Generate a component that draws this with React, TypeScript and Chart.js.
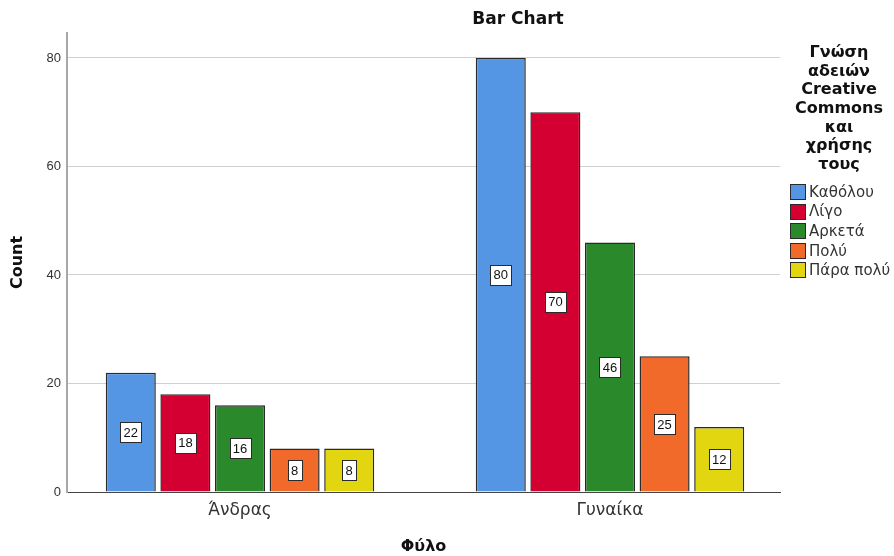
import React, { useEffect, useRef } from 'react';
import { Chart, registerables } from 'chart.js';

Chart.register(...registerables);

const categories = ['Άνδρας', 'Γυναίκα'];
const seriesNames = ['Καθόλου', 'Λίγο', 'Αρκετά', 'Πολύ', 'Πάρα πολύ'];
const katholou = [22, 80];
const ligo = [18, 70];
const arketa = [16, 46];
const poly = [8, 25];
const paraPoly = [8, 12];
const seriesColors = ['#5596E4', '#D40032', '#2A892A', '#F26A2A', '#E2D610'];
const yTicks = [0, 20, 40, 60, 80];
const chartTitle = 'Bar Chart';
const xTitle = 'Φύλο';
const yTitle = 'Count';
const legendTitleLines = ['Γνώση', 'αδειών', 'Creative', 'Commons', 'και', 'χρήσης', 'τους'];

const FONT = '"Liberation Sans", Arial, sans-serif';
const WIDE = '"DejaVu Sans", sans-serif';

const seriesValues = [katholou, ligo, arketa, poly, paraPoly];

const customPlugin = {
  id: 'customDraw',
  afterDatasetsDraw(chart: any) {
    const ctx = chart.ctx;
    ctx.save();
    ctx.font = `13px ${FONT}`;
    ctx.textAlign = 'center';
    ctx.textBaseline = 'middle';
    chart.data.datasets.forEach((ds: any, di: number) => {
      const meta = chart.getDatasetMeta(di);
      meta.data.forEach((el: any, i: number) => {
        const v = ds.data[i].y;
        const { x, y, base } = el.getProps(['x', 'y', 'base'], true);
        const cy = (y + base) / 2;
        const text = String(v);
        const w = Math.round(ctx.measureText(text).width + 7);
        const h = 20;
        const bx = Math.round(x - w / 2) + 0.5;
        const by = Math.round(cy - h / 2) + 0.5;
        ctx.fillStyle = '#ffffff';
        ctx.fillRect(bx, by, w, h);
        ctx.strokeStyle = '#2a2a2a';
        ctx.lineWidth = 1;
        ctx.strokeRect(bx, by, w, h);
        ctx.fillStyle = '#111111';
        ctx.fillText(text, x, cy + 1);
      });
    });
    ctx.restore();
  },
  afterDraw(chart: any) {
    const ctx = chart.ctx;
    ctx.save();
    // chart title
    ctx.fillStyle = '#111111';
    ctx.font = `bold 17px ${WIDE}`;
    ctx.textAlign = 'center';
    ctx.textBaseline = 'middle';
    ctx.fillText(chartTitle, 518, 20);
    // legend title
    ctx.font = `bold 16px ${WIDE}`;
    legendTitleLines.forEach((line, i) => {
      ctx.fillText(line, 839, 53 + i * 18.6);
    });
    // legend items
    ctx.textAlign = 'left';
    ctx.font = `15px ${WIDE}`;
    seriesNames.forEach((name, i) => {
      const y = 192 + i * 19.6;
      ctx.fillStyle = seriesColors[i];
      ctx.fillRect(790.5, Math.round(y - 8) + 0.5, 15, 15);
      ctx.strokeStyle = '#2a2a2a';
      ctx.lineWidth = 1;
      ctx.strokeRect(790.5, Math.round(y - 8) + 0.5, 15, 15);
      ctx.fillStyle = '#333333';
      ctx.fillText(name, 809, y + 1);
    });
    ctx.restore();
  },
};

export default function App() {
  const canvasRef = useRef<HTMLCanvasElement | null>(null);

  useEffect(() => {
    if (!canvasRef.current) return;
    const datasets = seriesNames.map((name, si) => ({
      label: name,
      data: seriesValues[si].map((v, ci) => ({ x: ci + 1, y: v })),
      backgroundColor: seriesColors[si],
      borderColor: '#2a2a2a',
      borderWidth: 1.5,
      categoryPercentage: 0.738,
      barPercentage: 0.916,
    }));
    const chart = new Chart(canvasRef.current, {
      type: 'bar',
      data: { datasets },
      plugins: [customPlugin],
      options: {
        responsive: false,
        animation: false,
        layout: { padding: { top: 33, right: 114, left: 0, bottom: 0 } },
        plugins: {
          legend: { display: false },
          title: { display: false },
          tooltip: { enabled: false },
        },
        scales: {
          x: {
            type: 'linear',
            offset: false,
            min: 0.5324,
            max: 2.4595,
            afterBuildTicks: (s: any) => {
              s.ticks = categories.map((_, i) => ({ value: i + 1 }));
            },
            afterFit: (s: any) => {
              s.height = 64;
            },
            grid: { display: false, drawTicks: false, offset: false },
            border: { display: true, color: '#444444', width: 1 },
            ticks: {
              padding: 8,
              color: '#333333',
              font: { family: WIDE, size: 17 },
              callback: (v: any) => categories[Math.round(v) - 1] ?? '',
            },
            title: {
              display: true,
              text: xTitle,
              color: '#111111',
              font: { family: WIDE, size: 16, weight: 'bold', lineHeight: 1 },
              padding: { top: 0, bottom: 1 },
            },
          },
          y: {
            type: 'linear',
            min: 0,
            max: 84.6,
            afterBuildTicks: (s: any) => {
              s.ticks = yTicks.map((v) => ({ value: v }));
            },
            afterFit: (s: any) => {
              s.width = 67;
            },
            grid: { display: true, color: '#d0d0d0', lineWidth: 1, drawTicks: false },
            border: { display: true, color: '#a8a8a8', width: 2 },
            ticks: {
              padding: 6,
              color: '#333333',
              font: { family: FONT, size: 13 },
            },
            title: {
              display: true,
              text: yTitle,
              color: '#111111',
              font: { family: WIDE, size: 16, weight: 'bold' },
              padding: { top: 8, bottom: 0 },
            },
          },
        },
      } as any,
    });
    return () => chart.destroy();
  }, []);

  return (
    <div style={{ position: 'absolute', left: 0, top: 0, width: 894, height: 556, background: '#ffffff' }}>
      <canvas ref={canvasRef} width={894} height={556} style={{ display: 'block' }} />
    </div>
  );
}
